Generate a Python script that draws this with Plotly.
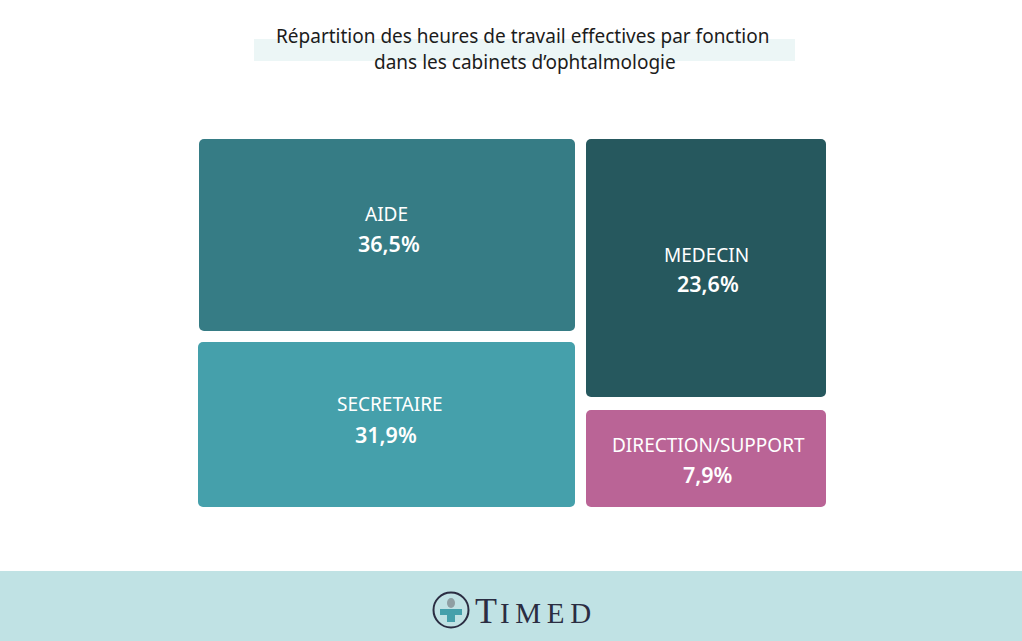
import plotly.graph_objects as go

W = 1022
H = 641

# valeurs
fonctions = ["AIDE", "SECRETAIRE", "MEDECIN", "DIRECTION/SUPPORT"]
parts = [36.5, 31.9, 23.6, 7.9]
libelles_parts = ["36,5%", "31,9%", "23,6%", "7,9%"]
couleurs = ["#367c85", "#45a0ab", "#26585e", "#ba6496"]

# les tuiles de l'original ne sont pas proportionnelles aux parts, donc relevees a part (axes en pixels)
tuile_x0 = [199, 198, 586, 586]
tuile_x1 = [575, 575, 826, 826]
tuile_y0 = [139, 342, 139, 410]
tuile_y1 = [331, 507, 397, 507]

# centres des textes
nom_x = [386, 389.5, 706, 708]
nom_y = [214, 404, 255, 445]
part_x = [389, 386, 708, 708]
part_y = [243, 434, 283, 474]

titre_lignes = ["Répartition des heures de travail effectives par fonction", "dans les cabinets d’ophtalmologie"]
titre_x = [522.5, 525]
titre_y = [36, 62]

fig = go.Figure(
    go.Bar(
        x=[(a + b) / 2 for a, b in zip(tuile_x0, tuile_x1)],
        width=[b - a for a, b in zip(tuile_x0, tuile_x1)],
        base=tuile_y0,
        y=[b - a for a, b in zip(tuile_y0, tuile_y1)],
        marker=dict(color=couleurs, cornerradius=5, line_width=0),
        customdata=libelles_parts,
        hovertext=fonctions,
        hovertemplate="%{hovertext}: %{customdata}<extra></extra>",
    )
)

fig.update_layout(
    width=W,
    height=H,
    margin=dict(l=0, r=0, t=0, b=0),
    paper_bgcolor="#ffffff",
    plot_bgcolor="rgba(0,0,0,0)",
    showlegend=False,
    xaxis=dict(range=[0, W], visible=False, fixedrange=True),
    yaxis=dict(range=[H, 0], visible=False, fixedrange=True),
)

# bande derriere le titre
fig.add_shape(type="rect", x0=254, x1=795, y0=39, y1=61, fillcolor="#ecf6f6", line_width=0, layer="below")
# bandeau du bas
fig.add_shape(type="rect", x0=0, x1=W, y0=571, y1=H, fillcolor="#c0e2e4", line_width=0, layer="below")

# logo
fig.add_shape(type="circle", x0=433.5, x1=468.5, y0=592.5, y1=627.5, line=dict(color="#2b2d42", width=2))
fig.add_shape(type="circle", x0=447, x1=455, y0=598, y1=608, fillcolor="#8f9fa3", line_width=0)
fig.add_shape(type="rect", x0=440, x1=462, y0=609, y1=615, fillcolor="#45a0ab", line_width=0)
fig.add_shape(type="rect", x0=447, x1=455, y0=609, y1=622, fillcolor="#45a0ab", line_width=0)
fig.add_annotation(
    text="<span style='letter-spacing:3px'>T</span><span style='font-size:29px;letter-spacing:5.7px'>IMED</span>",
    x=473, y=611, xanchor="left", yanchor="middle", showarrow=False,
    font=dict(family="Liberation Serif", size=36, color="#2b2d42"),
)

for ligne, x, y in zip(titre_lignes, titre_x, titre_y):
    fig.add_annotation(text=ligne, x=x, y=y, xanchor="center", yanchor="middle", showarrow=False,
                       font=dict(family="Noto Sans", size=19, color="#1c1c1c"))

for i in range(len(fonctions)):
    fig.add_annotation(text=fonctions[i], x=nom_x[i], y=nom_y[i], showarrow=False,
                       font=dict(family="Noto Sans", size=19, color="#ffffff"))
    fig.add_annotation(text=libelles_parts[i], x=part_x[i], y=part_y[i], showarrow=False,
                       font=dict(family="Noto Sans", size=21.5, color="#ffffff", weight=600))

fig.write_html("out.html", post_script="document.body.style.margin='0';", config=dict(displayModeBar=False))
